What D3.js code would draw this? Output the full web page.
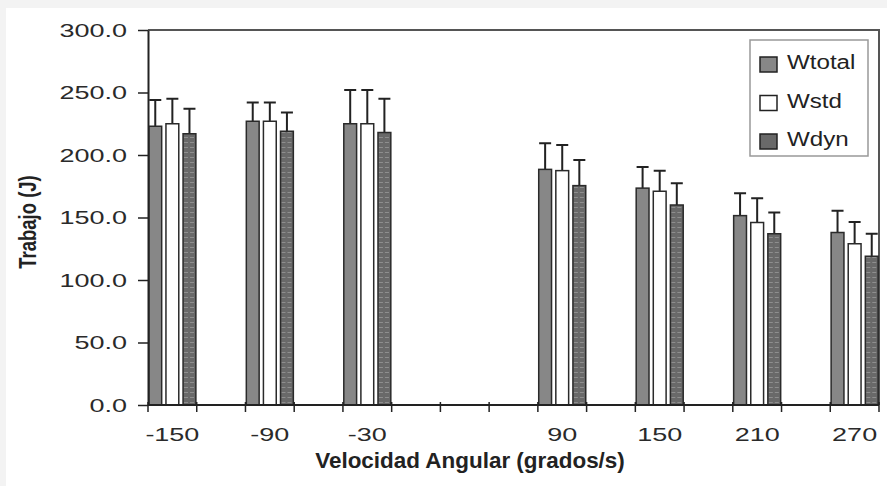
<!DOCTYPE html>
<html lang="es">
<head>
<meta charset="UTF-8">
<title>Trabajo vs Velocidad Angular</title>
<script src="https://d3js.org/d3.v7.min.js"></script>
<style>
    body {
        margin: 0;
        background-color: #f3f3f3;
        font-family: "Liberation Sans", Arial, sans-serif;
    }
    svg { display: block; }
    .tick-label { fill: #2a2a2a; font-size: 19px; }
    .legend-label { fill: #222; font-size: 21px; }
    .axis-title { fill: #222; font-weight: bold; }
</style>
</head>
<body>
<div id="chart"></div>
<script>
    // velocidades angulares (30 no tiene datos)
    const velocities = ["-150", "-90", "-30", "30", "90", "150", "210", "270"];
    const series = ["Wtotal", "Wstd", "Wdyn"];

    const wtotal = [223, 227, 225, null, 188.5, 173.5, 151.5, 138];
    const wstd   = [225, 227, 225, null, 187.5, 171, 146, 129];
    const wdyn   = [217, 219, 218, null, 175.5, 160, 137, 119];

    const wtotalErr = [21, 15, 27, null, 21, 17, 18, 17.5];
    const wstdErr   = [20, 15, 27, null, 20.5, 16.5, 19.5, 17.5];
    const wdynErr   = [20, 15, 27, null, 20.5, 17.5, 17, 18];

    const yTicks = [0, 50, 100, 150, 200, 250, 300];

    const width = 887, height = 486;
    const plot = { left: 148, right: 879, top: 30, bottom: 405 };
    const stretch = 1.42; // el original tiene el texto ensanchado

    const svg = d3.select('#chart').append('svg')
        .attr('width', width)
        .attr('height', height);

    // fondo blanco del grafico
    svg.append('rect')
        .attr('x', 6).attr('y', 8)
        .attr('width', width - 6).attr('height', height - 8)
        .attr('fill', '#fff');

    const defs = svg.append('defs');
    const pat = defs.append('pattern')
        .attr('id', 'stripes')
        .attr('patternUnits', 'userSpaceOnUse')
        .attr('width', 6).attr('height', 5);
    pat.append('rect').attr('width', 6).attr('height', 5).attr('fill', '#696969');
    pat.append('rect').attr('y', 2).attr('width', 4).attr('height', 1).attr('fill', '#8e8e8e');

    const fills = { Wtotal: '#878787', Wstd: '#ffffff', Wdyn: 'url(#stripes)' };
    const swatchFills = { Wtotal: '#878787', Wstd: '#ffffff', Wdyn: '#696969' };

    // 15 casillas: cada velocidad ocupa una, con una vacia entre ellas
    const slots = d3.range(velocities.length * 2 - 1);
    const x = d3.scaleBand().domain(slots).range([plot.left, plot.right]).padding(0);
    const xInner = d3.scaleBand().domain(series)
        .range([0, x.bandwidth()])
        .paddingInner(0.25).paddingOuter(0.05);
    const y = d3.scaleLinear().domain([0, 300]).range([plot.bottom, plot.top]);

    // marco del area de trazado (arriba y derecha)
    svg.append('path')
        .attr('d', `M${plot.left},${plot.top}H${plot.right}V${plot.bottom}`)
        .attr('fill', 'none')
        .attr('stroke', '#555')
        .attr('stroke-width', 2);

    const rows = velocities.map((v, i) => ({
        v, slot: i * 2,
        values: [
            { s: 'Wtotal', val: wtotal[i], err: wtotalErr[i] },
            { s: 'Wstd', val: wstd[i], err: wstdErr[i] },
            { s: 'Wdyn', val: wdyn[i], err: wdynErr[i] }
        ].filter(d => d.val !== null)
    }));

    const groups = svg.append('g').selectAll('g')
        .data(rows)
        .join('g')
        .attr('transform', d => `translate(${x(d.slot)},0)`);

    // barras de error (solo hacia arriba)
    groups.selectAll('.err')
        .data(d => d.values)
        .join('path')
        .attr('class', 'err')
        .attr('d', d => {
            const cx = xInner(d.s) + xInner.bandwidth() / 2;
            const yt = y(d.val + d.err);
            return `M${cx},${y(d.val)}V${yt}M${cx - 6},${yt}H${cx + 6}`;
        })
        .attr('fill', 'none')
        .attr('stroke', '#222')
        .attr('stroke-width', 2);

    groups.selectAll('.bar')
        .data(d => d.values)
        .join('rect')
        .attr('class', 'bar')
        .attr('x', d => xInner(d.s))
        .attr('y', d => y(d.val))
        .attr('width', xInner.bandwidth())
        .attr('height', d => y(0) - y(d.val))
        .attr('fill', d => fills[d.s])
        .attr('stroke', '#2a2a2a')
        .attr('stroke-width', 1.5);

    // eje Y (etiquetas dibujadas aparte para poder ensancharlas)
    const yAxis = svg.append('g')
        .attr('transform', `translate(${plot.left},0)`)
        .call(d3.axisLeft(y).tickValues(yTicks).tickFormat('').tickSize(10).tickSizeOuter(0));
    yAxis.select('.domain').attr('stroke', '#222').attr('stroke-width', 2);
    yAxis.selectAll('.tick line').attr('stroke', '#222').attr('stroke-width', 1.5);

    svg.append('g').selectAll('text')
        .data(yTicks)
        .join('text')
        .attr('class', 'tick-label')
        .attr('transform', d => `translate(127,${y(d)}) scale(${stretch},1)`)
        .attr('dy', '0.36em')
        .attr('text-anchor', 'end')
        .text(d3.format('.1f'));

    // eje X con marcas en los limites de cada casilla
    const xAxis = svg.append('g').attr('transform', `translate(0,${plot.bottom})`);
    xAxis.append('line')
        .attr('x1', plot.left).attr('x2', plot.right)
        .attr('stroke', '#222').attr('stroke-width', 2);
    const bounds = slots.map(s => x(s)).concat([plot.right]);
    xAxis.selectAll('.xt')
        .data(bounds)
        .join('line')
        .attr('class', 'xt')
        .attr('x1', d => d).attr('x2', d => d)
        .attr('y1', -3).attr('y2', 7)
        .attr('stroke', '#222').attr('stroke-width', 1.5);
    xAxis.selectAll('.xl')
        .data(rows.filter(d => d.values.length))
        .join('text')
        .attr('class', 'tick-label')
        .attr('transform', d => `translate(${x(d.slot) + x.bandwidth() / 2},36) scale(${stretch},1)`)
        .attr('text-anchor', 'middle')
        .text(d => d.v);

    svg.append('text')
        .attr('class', 'axis-title')
        .attr('transform', 'translate(470,468) scale(1.02,1)')
        .attr('text-anchor', 'middle')
        .attr('font-size', 22)
        .text('Velocidad Angular (grados/s)');

    svg.append('text')
        .attr('class', 'axis-title')
        .attr('transform', 'translate(36,222) rotate(-90) scale(1,1.25)')
        .attr('text-anchor', 'middle')
        .attr('font-size', 18.5)
        .text('Trabajo (J)');

    // leyenda
    const legend = svg.append('g').attr('transform', 'translate(750,40)');
    legend.append('rect')
        .attr('width', 118).attr('height', 116)
        .attr('fill', '#fff')
        .attr('stroke', '#999').attr('stroke-width', 1.5);
    const items = legend.selectAll('.item')
        .data(series)
        .join('g')
        .attr('class', 'item')
        .attr('transform', (d, i) => `translate(10,${24 + i * 38.5})`);
    items.append('rect')
        .attr('x', 0).attr('y', -7)
        .attr('width', 17).attr('height', 15)
        .attr('fill', d => swatchFills[d])
        .attr('stroke', '#222').attr('stroke-width', 1.5);
    items.append('text')
        .attr('class', 'legend-label')
        .attr('transform', `translate(27,5) scale(1.15,1)`)
        .text(d => d);
</script>
</body>
</html>
